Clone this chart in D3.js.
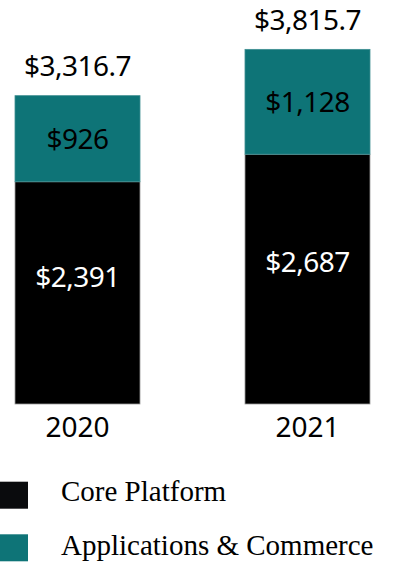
<!DOCTYPE html>
<html>
<head>
<meta charset="utf-8">
<script src="https://cdn.jsdelivr.net/npm/d3@7"></script>
<style>
  body { margin: 0; background: #fff; }
  svg { display: block; }
</style>
</head>
<body>
<svg id="chart" width="401" height="569"></svg>
<script>
// values in $ millions
var years = ["2020", "2021"];
var corePlatform = [2391, 2687];
var appsCommerce = [926, 1128];
var totals = ["$3,316.7", "$3,815.7"];
var coreLabels = ["$2,391", "$2,687"];
var appsLabels = ["$926", "$1,128"];
var seriesNames = ["Core Platform", "Applications & Commerce"];
var seriesColors = ["#000000", "#0e7477"];

var svg = d3.select("#chart");
var valueFont = "'Noto Sans', sans-serif";

var x = d3.scaleBand().domain(years).range([15, 370]).paddingInner(0.4565).paddingOuter(0);
var y = d3.scaleLinear().domain([0, 3815.7]).range([404, 49.3]);

var rows = years.map(function(yr, i) {
    return { year: yr, core: corePlatform[i], apps: appsCommerce[i], total: totals[i],
             coreLabel: coreLabels[i], appsLabel: appsLabels[i] };
});

var g = svg.append("g");

// core platform segment
g.selectAll("rect.core").data(rows).enter().append("rect")
    .attr("class", "core")
    .attr("x", function(d) { return x(d.year); })
    .attr("width", x.bandwidth())
    .attr("y", function(d) { return y(d.core); })
    .attr("height", function(d) { return y(0) - y(d.core); })
    .attr("fill", seriesColors[0])
    .attr("stroke", "#9a9a9a")
    .attr("stroke-width", 0.8);

// applications & commerce segment
g.selectAll("rect.apps").data(rows).enter().append("rect")
    .attr("class", "apps")
    .attr("x", function(d) { return x(d.year); })
    .attr("width", x.bandwidth())
    .attr("y", function(d) { return y(d.core + d.apps); })
    .attr("height", function(d) { return y(d.core) - y(d.core + d.apps); })
    .attr("fill", seriesColors[1])
    .attr("stroke", "#3f8f92")
    .attr("stroke-width", 0.8);

function cx(d) { return x(d.year) + x.bandwidth() / 2; }

g.selectAll("text.core-lbl").data(rows).enter().append("text")
    .attr("class", "core-lbl")
    .attr("x", cx)
    .attr("y", function(d) { return y(d.core) + (y(0) - y(d.core)) * 0.43 + 10; })
    .attr("text-anchor", "middle")
    .attr("fill", "#fff")
    .style("font-family", valueFont).style("font-size", "28px").style("letter-spacing", "-0.5px")
    .text(function(d) { return d.coreLabel; });

g.selectAll("text.apps-lbl").data(rows).enter().append("text")
    .attr("class", "apps-lbl")
    .attr("x", cx)
    .attr("y", function(d) { return (y(d.core) + y(d.core + d.apps)) / 2 + 10; })
    .attr("text-anchor", "middle")
    .attr("fill", "#000")
    .style("font-family", valueFont).style("font-size", "28px").style("letter-spacing", "-0.5px")
    .text(function(d) { return d.appsLabel; });

g.selectAll("text.total").data(rows).enter().append("text")
    .attr("class", "total")
    .attr("x", cx)
    .attr("y", function(d) { return y(d.core + d.apps) - 19.5; })
    .attr("text-anchor", "middle")
    .attr("fill", "#000")
    .style("font-family", valueFont).style("font-size", "28px").style("letter-spacing", "-0.5px")
    .text(function(d) { return d.total; });

// year axis, no line or ticks
var axis = svg.append("g")
    .attr("transform", "translate(0," + y(0) + ")")
    .call(d3.axisBottom(x).tickSize(0).tickPadding(33));
axis.select(".domain").remove();
axis.selectAll("text")
    .attr("dy", 0)
    .attr("fill", "#000")
    .style("font-family", valueFont).style("font-size", "28px");

// legend
var legendTop = [481.7, 534.3];
var legendBase = [500.5, 555];
var legend = svg.append("g").selectAll("g").data(seriesNames).enter().append("g");
legend.append("rect")
    .attr("x", 0).attr("y", function(d, i) { return legendTop[i]; })
    .attr("width", 28).attr("height", 27)
    .attr("fill", function(d, i) { return i === 0 ? "#0a0b0d" : seriesColors[1]; });
legend.append("text")
    .attr("x", 61).attr("y", function(d, i) { return legendBase[i]; })
    .attr("fill", "#000")
    .style("font-family", "'Liberation Serif', 'Times New Roman', serif")
    .style("font-size", "29px")
    .text(function(d) { return d; });
</script>
</body>
</html>
